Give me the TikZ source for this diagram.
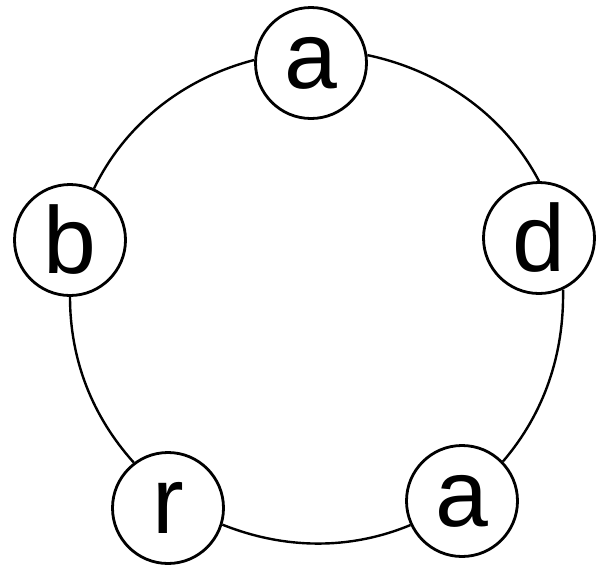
\documentclass[tikz,border=0pt]{standalone}
\usepackage{fontspec}
\setmainfont{Liberation Sans}
\begin{document}
\begin{tikzpicture}[x=1pt,y=-1pt,
  letter/.style={circle,draw=black,line width=2.8pt,fill=white,minimum size=111pt,inner sep=0pt,
    font=\fontsize{95}{100}\selectfont},
  ring/.style={line width=2.4pt,black,looseness=0.9}]
\useasboundingbox (0,0) rectangle (597,568);
\node[letter] (top) at (311,63) {a};
\node[letter] (d) at (539,238) {d};
\node[letter] (bot) at (462,501) {a};
\node[letter] (r) at (168,508) {r};
\node[letter] (b) at (70,240) {b};
\draw[ring] (top.8) to[out=-12,in=117.6] (d.90);
\draw[ring] (d.-65) to[out=-89,in=49.4] (bot.44);
\draw[ring] (bot.205) to[out=-157.5,in=-21.8] (r.-17);
\draw[ring] (r.127) to[out=131.9,in=-90] (b.-90);
\draw[ring] (b.65) to[out=64.2,in=194.4] (top.177);
\end{tikzpicture}
\end{document}
